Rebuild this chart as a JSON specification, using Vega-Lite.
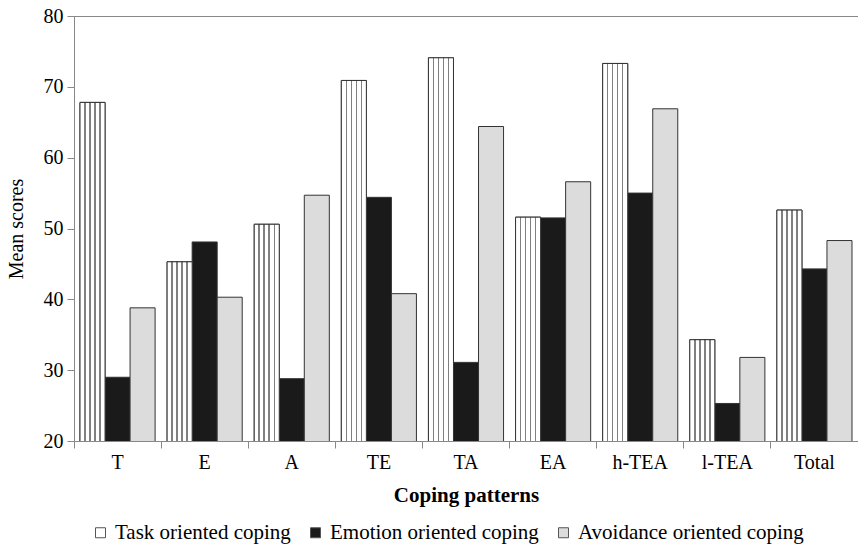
{
  "$schema": "https://vega.github.io/schema/vega-lite/v6.json",
  "width": 784,
  "height": 425,
  "autosize": {"type": "none"},
  "padding": {"left": 74, "top": 16, "right": 0, "bottom": 108},
  "config": {
    "font": "Liberation Serif",
    "view": {"stroke": "#888", "strokeWidth": 1},
    "axis": {"labelFont": "Liberation Serif", "titleFont": "Liberation Serif", "labelColor": "#000", "titleColor": "#000", "domainColor": "#888", "tickColor": "#888", "grid": false}
  },
  "data": {
    "values": [
      {"pattern": "T", "type": "Task oriented coping", "score": 67.8},
      {"pattern": "T", "type": "Emotion oriented coping", "score": 29.0},
      {"pattern": "T", "type": "Avoidance oriented coping", "score": 38.8},
      {"pattern": "E", "type": "Task oriented coping", "score": 45.3},
      {"pattern": "E", "type": "Emotion oriented coping", "score": 48.1},
      {"pattern": "E", "type": "Avoidance oriented coping", "score": 40.3},
      {"pattern": "A", "type": "Task oriented coping", "score": 50.6},
      {"pattern": "A", "type": "Emotion oriented coping", "score": 28.8},
      {"pattern": "A", "type": "Avoidance oriented coping", "score": 54.7},
      {"pattern": "TE", "type": "Task oriented coping", "score": 70.9},
      {"pattern": "TE", "type": "Emotion oriented coping", "score": 54.4},
      {"pattern": "TE", "type": "Avoidance oriented coping", "score": 40.8},
      {"pattern": "TA", "type": "Task oriented coping", "score": 74.1},
      {"pattern": "TA", "type": "Emotion oriented coping", "score": 31.1},
      {"pattern": "TA", "type": "Avoidance oriented coping", "score": 64.4},
      {"pattern": "EA", "type": "Task oriented coping", "score": 51.6},
      {"pattern": "EA", "type": "Emotion oriented coping", "score": 51.5},
      {"pattern": "EA", "type": "Avoidance oriented coping", "score": 56.6},
      {"pattern": "h-TEA", "type": "Task oriented coping", "score": 73.3},
      {"pattern": "h-TEA", "type": "Emotion oriented coping", "score": 55.0},
      {"pattern": "h-TEA", "type": "Avoidance oriented coping", "score": 66.9},
      {"pattern": "l-TEA", "type": "Task oriented coping", "score": 34.3},
      {"pattern": "l-TEA", "type": "Emotion oriented coping", "score": 25.3},
      {"pattern": "l-TEA", "type": "Avoidance oriented coping", "score": 31.8},
      {"pattern": "Total", "type": "Task oriented coping", "score": 52.6},
      {"pattern": "Total", "type": "Emotion oriented coping", "score": 44.3},
      {"pattern": "Total", "type": "Avoidance oriented coping", "score": 48.3}
    ]
  },
  "encoding": {
    "x": {
      "field": "pattern", "type": "nominal",
      "sort": ["T", "E", "A", "TE", "TA", "EA", "h-TEA", "l-TEA", "Total"],
      "scale": {"paddingInner": 0, "paddingOuter": 0},
      "axis": {"title": "Coping patterns", "titleFontSize": 21, "titleFontWeight": "bold", "titlePadding": 12, "labelAngle": 0, "labelFontSize": 20, "bandPosition": 0, "tickSize": 7, "labelPadding": 4}
    },
    "xOffset": {
      "field": "type",
      "sort": ["Task oriented coping", "Emotion oriented coping", "Avoidance oriented coping"],
      "scale": {"paddingInner": 0, "paddingOuter": 0.24}
    },
    "y": {
      "field": "score", "type": "quantitative",
      "scale": {"domain": [20, 80], "zero": false},
      "axis": {"title": "Mean scores", "titleFontSize": 20, "titleFontWeight": "normal", "titlePadding": 17, "labelFontSize": 20, "values": [20, 30, 40, 50, 60, 70, 80], "tickSize": 7, "labelPadding": 4}
    }
  },
  "layer": [
    {
      "mark": {"type": "bar", "stroke": "#333", "strokeWidth": 1, "clip": true},
      "encoding": {
        "fill": {
          "field": "type", "type": "nominal",
          "sort": ["Task oriented coping", "Emotion oriented coping", "Avoidance oriented coping"],
          "scale": {
            "domain": ["Task oriented coping", "Emotion oriented coping", "Avoidance oriented coping"],
            "range": ["#ffffff", "#1a1a1a", "#dcdcdc"]
          },
          "legend": {
            "title": null, "orient": "none", "legendX": 16, "legendY": 506, "direction": "horizontal", "padding": 0,
            "labelFont": "Liberation Serif", "labelFontSize": 21, "labelColor": "#000",
            "symbolType": "square", "symbolSize": 100, "symbolStrokeColor": "#555", "symbolStrokeWidth": 1,
            "columnPadding": 14, "labelOffset": 4, "labelLimit": 400,
            "encode": {"symbols": {"update": {
              "fill": {"signal": "datum.value === 'Task oriented coping' ? {gradient: 'linear', x1: 0, y1: 0, x2: 1, y2: 0, stops: [{offset: 0, color: '#ffffff'}, {offset: 0.2, color: '#ffffff'}, {offset: 0.2, color: '#707070'}, {offset: 0.35, color: '#707070'}, {offset: 0.35, color: '#ffffff'}, {offset: 0.45, color: '#ffffff'}, {offset: 0.45, color: '#707070'}, {offset: 0.6, color: '#707070'}, {offset: 0.6, color: '#ffffff'}, {offset: 0.7, color: '#ffffff'}, {offset: 0.7, color: '#707070'}, {offset: 0.85, color: '#707070'}, {offset: 0.85, color: '#ffffff'}, {offset: 1, color: '#ffffff'}]} : scale('fill', datum.value)"},
              "stroke": {"value": "#555"},
              "strokeWidth": {"value": 1}
            }}}
          }
        }
      }
    },
    {
      "transform": [{"filter": "datum.type === 'Task oriented coping'"}],
      "mark": {
        "type": "bar", "stroke": "#333", "strokeWidth": 1, "clip": true,
        "fill": {"gradient": "linear", "x1": 0, "x2": 1, "y1": 0, "y2": 0, "stops": [
          {"offset": 0, "color": "#ffffff"},
          {"offset": 0.17, "color": "#ffffff"}, {"offset": 0.17, "color": "#808080"}, {"offset": 0.23, "color": "#808080"}, {"offset": 0.23, "color": "#ffffff"},
          {"offset": 0.37, "color": "#ffffff"}, {"offset": 0.37, "color": "#808080"}, {"offset": 0.43, "color": "#808080"}, {"offset": 0.43, "color": "#ffffff"},
          {"offset": 0.57, "color": "#ffffff"}, {"offset": 0.57, "color": "#808080"}, {"offset": 0.63, "color": "#808080"}, {"offset": 0.63, "color": "#ffffff"},
          {"offset": 0.77, "color": "#ffffff"}, {"offset": 0.77, "color": "#808080"}, {"offset": 0.83, "color": "#808080"}, {"offset": 0.83, "color": "#ffffff"},
          {"offset": 1, "color": "#ffffff"}
        ]}
      }
    }
  ]
}
